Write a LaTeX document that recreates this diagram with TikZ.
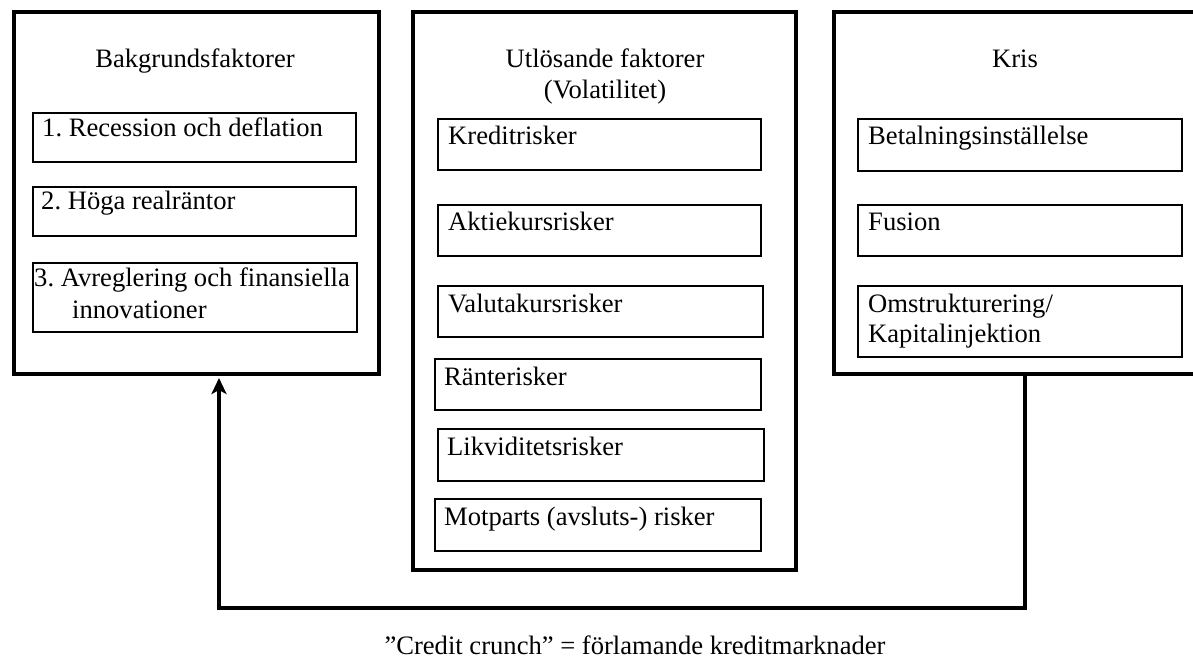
\documentclass[tikz,border=0pt]{standalone}
\usepackage{fontspec}
\setmainfont{Liberation Serif}
\usetikzlibrary{arrows.meta}
\frenchspacing
\begin{document}
\begin{tikzpicture}[x=1pt,y=-1pt,
  outer/.style={draw, line width=4pt, inner sep=0pt, outer sep=0pt, anchor=north west},
  innerbox/.style={draw, line width=1.8pt, inner sep=0pt, outer sep=0pt, anchor=north west},
  txt/.style={inner sep=0pt, anchor=base west, font=\fontsize{26.6}{31}\selectfont},
  ttl/.style={inner sep=0pt, anchor=base, font=\fontsize{26.6}{31}\selectfont},
  conn/.style={line width=4pt, -{Stealth[length=16pt,width=15pt,inset=4pt]}, shorten >=4pt}]
\useasboundingbox (0,0) rectangle (1193,660);
\clip (0,0) rectangle (1193,660);
\fill[white] (0,0) rectangle (1193,660);

% outer boxes
\node[outer, minimum width=365pt, minimum height=362pt] (L) at (14,12) {};
\node[outer, minimum width=383pt, minimum height=558pt] (M) at (413,12) {};
\node[outer, minimum width=400pt, minimum height=362pt] (R) at (834,12) {};

% titles
\node[ttl] (Lt) at (195,68) {Bakgrundsfaktorer};
\node[ttl] (Mt1) at (605,68) {Utlösande faktorer};
\node[ttl] (Mt2) at (605,99) {(Volatilitet)};
\node[ttl] (Rt) at (1015,68) {Kris};

% left inner boxes
\node[innerbox, minimum width=323pt, minimum height=49pt] (l1) at (33,113) {};
\node[txt] (l1t) at (42,137) {1. Recession och deflation};
\node[innerbox, minimum width=323pt, minimum height=49pt] (l2) at (33,187) {};
\node[txt] (l2t) at (41,210) {2. Höga realräntor};
\node[innerbox, minimum width=324pt, minimum height=69pt] (l3) at (33,263) {};
\node[txt] (l3a) at (34,287) {3. Avreglering och finansiella};
\node[txt] (l3b) at (72,318) {innovationer};

% middle inner boxes
\node[innerbox, minimum width=323pt, minimum height=51pt] (m1) at (438,119) {};
\node[txt] (m1t) at (448,145) {Kreditrisker};
\node[innerbox, minimum width=323pt, minimum height=51pt] (m2) at (438,205) {};
\node[txt] (m2t) at (448,231) {Aktiekursrisker};
\node[innerbox, minimum width=325pt, minimum height=51pt] (m3) at (438,286) {};
\node[txt] (m3t) at (448,312) {Valutakursrisker};
\node[innerbox, minimum width=326pt, minimum height=51pt] (m4) at (435,359) {};
\node[txt] (m4t) at (444,385) {Ränterisker};
\node[innerbox, minimum width=326pt, minimum height=52pt] (m5) at (438,429) {};
\node[txt] (m5t) at (447,455) {Likviditetsrisker};
\node[innerbox, minimum width=326pt, minimum height=52pt] (m6) at (435,499) {};
\node[txt] (m6t) at (444,525) {Motparts (avsluts-) risker};

% right inner boxes
\node[innerbox, minimum width=324pt, minimum height=52pt] (r1) at (858,119) {};
\node[txt] (r1t) at (868,145) {Betalningsinställelse};
\node[innerbox, minimum width=324pt, minimum height=51pt] (r2) at (858,205) {};
\node[txt] (r2t) at (868,231) {Fusion};
\node[innerbox, minimum width=324pt, minimum height=71pt] (r3) at (858,286) {};
\node[txt] (r3a) at (868,312) {Omstrukturering/};
\node[txt] (r3b) at (868,342) {Kapitalinjektion};

% feedback connector
\coordinate (c1) at (1025,608);
\coordinate (c2) at (219,608);
\draw[conn] (R.south -| c1) -- (c1) -- (c2) -- (L.south -| c2);

% caption
\node[ttl] (cap) at (635,654) {”Credit crunch” = förlamande kreditmarknader};
\end{tikzpicture}
\end{document}
